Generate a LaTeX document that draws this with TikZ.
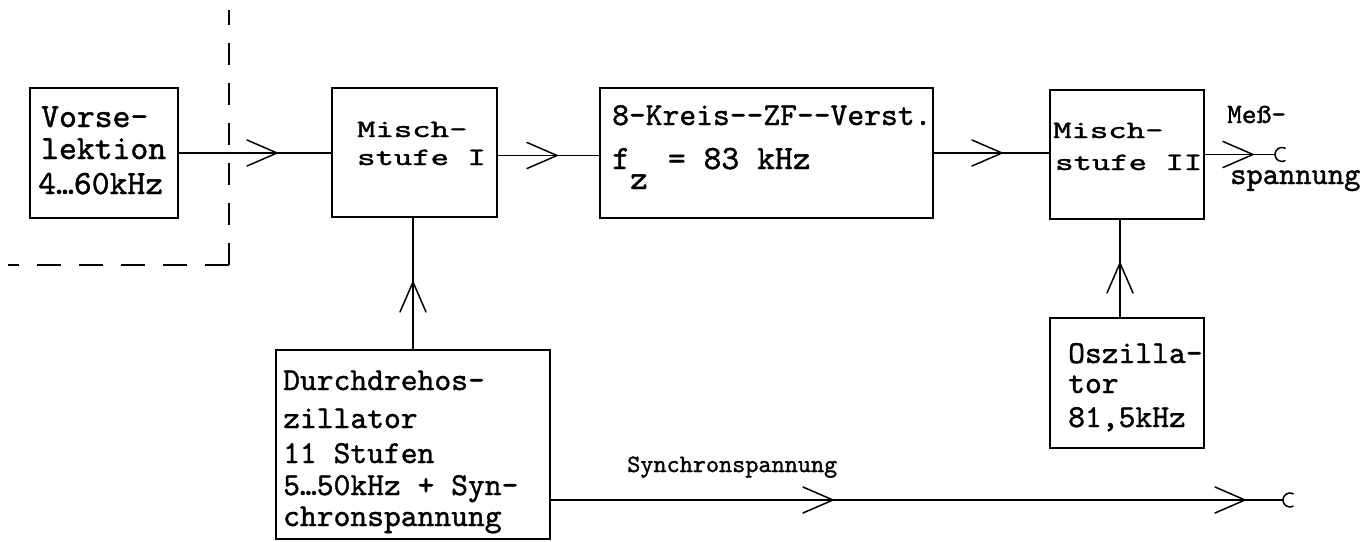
\documentclass[tikz,border=0pt]{standalone}
\usepackage{fontspec}
\usepackage{graphicx}
\newfontfamily\typew[FakeBold=1.2]{lmmono10-regular.otf}
\usetikzlibrary{decorations.markings}
\tikzset{
  box/.style={draw, line width=1.5pt, rectangle, inner sep=0pt, outer sep=0pt},
  tx/.style={anchor=base west, inner sep=0pt, font=\typew\fontsize{#1}{#1}\selectfont},
  conn/.style={line width=1.5pt},
  chev/.style={postaction={decorate, decoration={markings, mark=at position #1 with {\draw[line width=1.5pt, line cap=round] (-30,13) -- (0,0) -- (-30,-13);}}}},
}
\begin{document}
\begin{tikzpicture}[x=1pt, y=-1pt]
\useasboundingbox (0,0) rectangle (1364,541);
% boxes
\node[box, minimum width=148pt, minimum height=130pt] (vor) at (104,153) {};
\node[box, minimum width=165pt, minimum height=129pt] (mi) at (414.5,152.5) {};
\node[box, minimum width=333pt, minimum height=130pt] (zf) at (766.5,153) {};
\node[box, minimum width=154pt, minimum height=129pt] (mii) at (1127,154.5) {};
\node[box, minimum width=154pt, minimum height=130pt] (osz) at (1127,383) {};
\node[box, minimum width=274pt, minimum height=189pt] (dd) at (413,444.5) {};
% texts
\node[tx=34] (vor1) at (41,127) {Vorse-};
\node[tx=34] (vor2) at (41,159) {lektion};
\node[tx=34] (vor3) at (38,194) {4…60kHz};
\node[tx=25] (mi1) at (357,137) {\scalebox{1.4}[1]{Misch-}};
\node[tx=25] (mi2) at (357,165) {\scalebox{1.4}[1]{stufe I}};
\node[tx=32] (zf1) at (612,125) {8-Kreis-{}-ZF-{}-Verst.};
\node[tx=34] (zf2) at (612,169) {f\raisebox{-20pt}{z}\hspace{20pt}= 83 kHz};
\node[tx=25] (mii1) at (1053,138) {\scalebox{1.4}[1]{Misch-}};
\node[tx=25] (mii2) at (1055,170) {\scalebox{1.4}[1]{stufe II}};
\node[tx=32] (osz1) at (1068,363) {Oszilla-};
\node[tx=32] (osz2) at (1068,393) {tor};
\node[tx=32] (osz3) at (1068,427) {81,5kHz};
\node[tx=32] (dd1) at (283,390) {Durchdrehos-};
\node[tx=32] (dd2) at (283,428) {zillator};
\node[tx=32] (dd3) at (283,463) {11 Stufen};
\node[tx=32] (dd4) at (283,495) {5…50kHz + Syn-};
\node[tx=32] (dd5) at (283,526) {chronspannung};
\node[tx=28] (mess1) at (1227,123) {Meß-};
\node[tx=31] (mess2) at (1230,184) {spannung};
\node[tx=25] (syn) at (627,472) {Synchronspannung};
% terminals
\coordinate (mterm) at (1275,154.5);
\coordinate (sterm) at (1283,500);
% dashed boundary
\coordinate (dtop) at (229,10);
\coordinate (dcor) at (229,265);
\coordinate (dleft) at (8,265);
\draw[conn, dash pattern=on 22pt off 18pt] (dcor) -- (dtop);
\draw[conn, dash pattern=on 24pt off 18pt] (dcor) -- (dleft);
% connectors
\draw[conn, chev=99pt] (vor.east) -- (vor.east -| mi.west);
\draw[conn, chev=60pt] ([yshift=-3pt]mi.east) -- ([yshift=-3pt]mi.east -| zf.west);
\draw[conn, chev=69pt] (zf.east) -- (zf.east -| mii.west);
\draw[conn, chev=49pt] (mii.east) -- (mterm);
\draw[conn, chev=68pt] (dd.north) -- (dd.north |- mi.south);
\draw[conn, chev=55pt] ([xshift=-7pt]osz.north) -- ([xshift=-7pt]mii.south);
\draw[conn, chev=283pt, chev=695pt] (dd.east |- sterm) -- (sterm);
\draw[conn] (mterm) ++(7pt,0pt) ++(60:7pt) arc[start angle=60, end angle=300, radius=7pt];
\draw[conn] (sterm) ++(7pt,0pt) ++(60:7pt) arc[start angle=60, end angle=300, radius=7pt];
\end{tikzpicture}
\end{document}
